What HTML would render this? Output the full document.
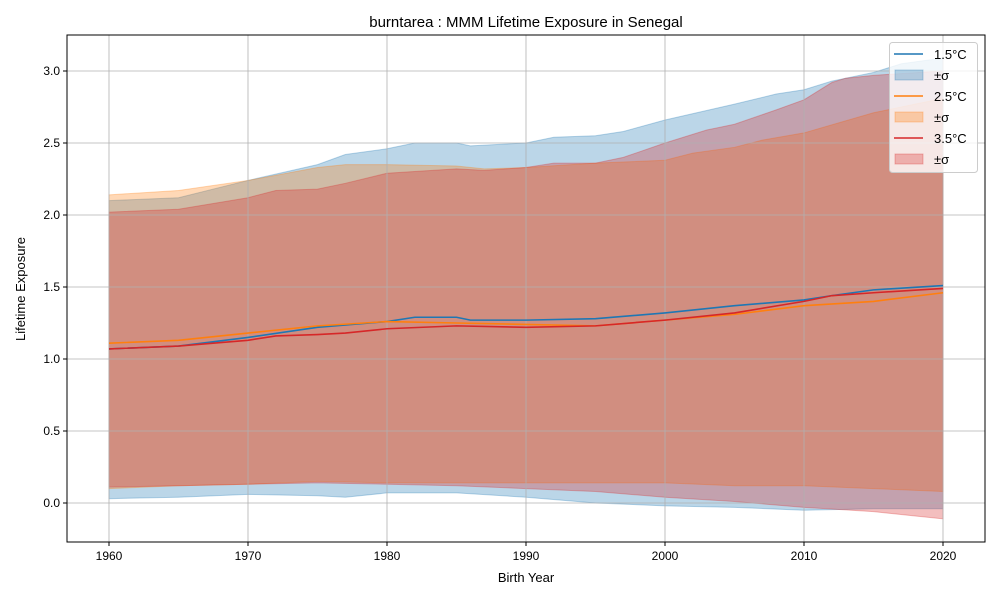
<!DOCTYPE html>
<html><head><meta charset="utf-8"><style>
body{margin:0;background:#fff;font-family:"Liberation Sans","DejaVu Sans",sans-serif}
</style></head><body>
<svg id="chart" width="1000" height="600" xmlns="http://www.w3.org/2000/svg">
<rect width="1000" height="600" fill="#fff"/>
<text x="526" y="27" font-size="15" text-anchor="middle">burntarea : MMM Lifetime Exposure in Senegal</text>
<g id="fills"></g>
<g id="grid"></g>
<g id="lines"></g>
<g id="axes"></g>
<text x="526" y="582" font-size="13" text-anchor="middle">Birth Year</text>
<text transform="translate(25,289) rotate(-90)" font-size="13" text-anchor="middle">Lifetime Exposure</text>
<g id="legend"></g>
</svg>
<script>
const xTicks=[1960,1970,1980,1990,2000,2010,2020];
const yTicks=[0,0.5,1,1.5,2,2.5,3];
const yTickLabels=["0.0","0.5","1.0","1.5","2.0","2.5","3.0"];
const seriesNames=["1.5°C","2.5°C","3.5°C"];
const m15Years=[1960,1965,1970,1975,1980,1982,1985,1986,1990,1995,2000,2005,2010,2012,2015,2020];
const m15=[1.07,1.09,1.15,1.22,1.26,1.29,1.29,1.27,1.27,1.28,1.32,1.37,1.41,1.44,1.48,1.51];
const m25Years=[1960,1965,1970,1975,1980,1985,1990,1995,2000,2005,2010,2015,2020];
const m25=[1.11,1.13,1.18,1.23,1.26,1.25,1.24,1.23,1.27,1.31,1.37,1.40,1.46];
const m35Years=[1960,1965,1970,1972,1975,1977,1980,1985,1990,1995,2000,2005,2010,2012,2015,2020];
const m35=[1.07,1.09,1.13,1.16,1.17,1.18,1.21,1.23,1.22,1.23,1.27,1.32,1.40,1.44,1.46,1.49];
const u15Years=[1960,1965,1970,1975,1977,1980,1982,1985,1986,1990,1992,1995,1997,2000,2005,2008,2010,2012,2015,2017,2020];
const u15=[2.10,2.12,2.24,2.35,2.42,2.46,2.50,2.50,2.48,2.50,2.54,2.55,2.58,2.66,2.77,2.84,2.87,2.93,2.99,3.05,3.09];
const l15Years=[1960,1965,1970,1975,1977,1980,1985,1990,1995,2000,2005,2010,2015,2020];
const l15=[0.03,0.04,0.06,0.05,0.04,0.07,0.07,0.04,0.0,-0.02,-0.03,-0.05,-0.04,-0.04];
const u25Years=[1960,1965,1970,1975,1977,1980,1985,1987,1990,1995,2000,2002,2005,2007,2010,2015,2020];
const u25=[2.14,2.17,2.24,2.33,2.35,2.35,2.34,2.32,2.33,2.36,2.38,2.43,2.47,2.52,2.57,2.71,2.81];
const l25Years=[1960,1965,1970,1975,1980,1985,1990,1995,2000,2005,2010,2015,2020];
const l25=[0.10,0.12,0.13,0.15,0.14,0.14,0.14,0.14,0.14,0.12,0.12,0.10,0.08];
const u35Years=[1960,1965,1970,1972,1975,1977,1980,1985,1987,1990,1992,1995,1997,2000,2003,2005,2008,2010,2012,2013,2015,2020];
const u35=[2.02,2.04,2.12,2.17,2.18,2.22,2.29,2.32,2.31,2.33,2.36,2.36,2.40,2.50,2.59,2.63,2.73,2.80,2.92,2.95,2.97,3.00];
const l35Years=[1960,1965,1970,1975,1980,1985,1990,1995,2000,2005,2010,2015,2018,2020];
const l35=[0.11,0.12,0.13,0.14,0.13,0.12,0.10,0.08,0.04,0.01,-0.03,-0.06,-0.09,-0.11];

const NS="http://www.w3.org/2000/svg";
const X0=67,X1=985,Y0=35,Y1=542;
const xs=y=>109+(y-1960)*(943-109)/60;
const ys=v=>503-v*144;
function mk(tag,attrs,parent){const e=document.createElementNS(NS,tag);for(const k in attrs)e.setAttribute(k,attrs[k]);parent.appendChild(e);return e;}
const grid=document.getElementById('grid'),axes=document.getElementById('axes');
xTicks.forEach(t=>{
  const g=mk('line',{x1:xs(t),x2:xs(t),y1:Y0,y2:Y1,stroke:'#b0b0b0','stroke-width':0.8},grid);
  
  
  mk('line',{x1:xs(t),x2:xs(t),y1:Y1,y2:Y1+4,stroke:'#000'},axes);
  const tx=mk('text',{x:xs(t),y:Y1+18,'font-size':12,'text-anchor':'middle'},axes);
  tx.textContent=t;
  
  
});
yTicks.forEach((t,i)=>{
  const g=mk('line',{x1:X0,x2:X1,y1:ys(t),y2:ys(t),stroke:'#b0b0b0','stroke-width':0.8},grid);
  
  
  mk('line',{x1:X0-4,x2:X0,y1:ys(t),y2:ys(t),stroke:'#000'},axes);
  const tx=mk('text',{x:X0-7,y:ys(t)+4,'font-size':12,'text-anchor':'end'},axes);
  tx.textContent=yTickLabels[i];
  
  
});
const frame=mk('rect',{x:X0,y:Y0,width:X1-X0,height:Y1-Y0,fill:'none',stroke:'#000','stroke-width':1},axes);



const colors=['#1f77b4','#ff7f0e','#d62728'];
const bands=[[u15Years,u15,l15Years,l15],[u25Years,u25,l25Years,l25],[u35Years,u35,l35Years,l35]];
const means=[[m15Years,m15],[m25Years,m25],[m35Years,m35]];
const fills=document.getElementById('fills'),lines=document.getElementById('lines');
bands.forEach((b,i)=>{
  let pts=b[0].map((y,j)=>xs(y)+','+ys(b[1][j]));
  for(let j=b[2].length-1;j>=0;j--)pts.push(xs(b[2][j])+','+ys(b[3][j]));
  const p=mk('polygon',{points:pts.join(' '),fill:colors[i],'fill-opacity':0.3,stroke:colors[i],'stroke-opacity':0.3},fills);
  
  
});
means.forEach((m,i)=>{
  const pts=m[0].map((y,j)=>xs(y)+','+ys(m[1][j])).join(' ');
  const l=mk('polyline',{points:pts,fill:'none',stroke:colors[i],'stroke-width':1.6},lines);
  
  
});
const lg=document.getElementById('legend');
mk('rect',{x:889.5,y:42.5,width:88,height:130,rx:3,fill:'#fff','fill-opacity':0.8,stroke:'#ccc'},lg);
for(let i=0;i<3;i++){
  const yl=54+i*42;
  const ln=mk('line',{x1:894,x2:923,y1:yl,y2:yl,stroke:colors[i],'stroke-width':1.6},lg);
  
  
  const t1=mk('text',{x:934,y:yl+5,'font-size':13},lg);t1.textContent=seriesNames[i];
  
  
  const sw=mk('rect',{x:895,y:yl+16,width:28,height:10,fill:colors[i],'fill-opacity':0.3,stroke:colors[i],'stroke-opacity':0.3},lg);
  
  
  const t2=mk('text',{x:934,y:yl+26,'font-size':13},lg);t2.textContent='±σ';
  
  
}
</script>
</body></html>
